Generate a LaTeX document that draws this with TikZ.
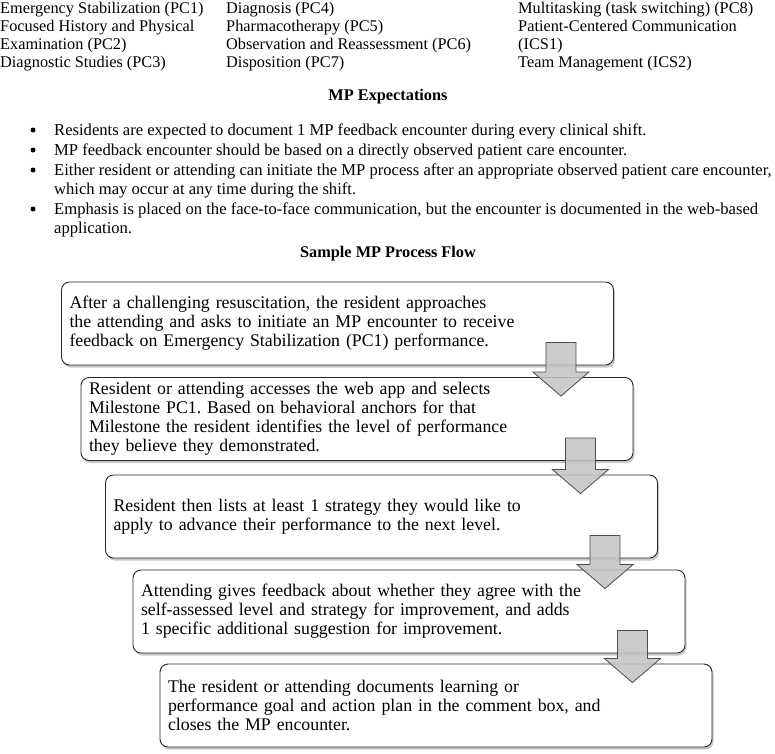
\documentclass[tikz,border=0pt]{standalone}
\usepackage{fontspec}
\setmainfont{Liberation Serif}
\frenchspacing
\usetikzlibrary{calc,shadows}
\tikzset{
  hdr/.style={anchor=base west, inner sep=0pt, font=\fontsize{16.3}{18}\selectfont},
  btxt/.style={anchor=base west, inner sep=0pt, font=\fontsize{16.6}{19}\selectfont},
  ttl/.style={anchor=base, inner sep=0pt, font=\fontsize{16.3}{18}\selectfont\bfseries},
  flowbox/.style={draw=black!85, line width=0.9pt, rounded corners=8pt, fill=white,
    minimum width=552pt, minimum height=83pt, text width=536pt, inner xsep=8pt,
    align=left, font=\fontsize{17.8}{19}\selectfont,
    drop shadow={shadow xshift=1.5pt, shadow yshift=-2.5pt, fill=black, opacity=0.22}},
  blockarr/.style={draw=black!70, line width=0.8pt, fill=black!23, fill opacity=0.88, line join=miter},
  bul/.style={circle, fill=black, inner sep=0pt, minimum size=5pt}
}
\newcommand\flowarrow[2]{%
  \draw[blockarr] let \p1=($(#1.south east)+(-53,-23)$), \p2=($(#2.north)+(0,19)$) in
    (\x1-15pt,\y1) -- (\x1+15pt,\y1) -- (\x1+15pt,\y2+24pt) -- (\x1+28pt,\y2+24pt)
    -- (\x1,\y2) -- (\x1-28pt,\y2+24pt) -- (\x1-15pt,\y2+24pt) -- cycle;}
\begin{document}
\begin{tikzpicture}[x=1pt,y=-1pt]
\useasboundingbox (0,0) rectangle (775,753);
% header columns
\node[hdr] (h11) at (0,13) {Emergency Stabilization (PC1)};
\node[hdr] (h12) at (0,31) {Focused History and Physical};
\node[hdr] (h13) at (0,49) {Examination (PC2)};
\node[hdr] (h14) at (0,67) {Diagnostic Studies (PC3)};
\node[hdr] (h21) at (226,13) {Diagnosis (PC4)};
\node[hdr] (h22) at (226,31) {Pharmacotherapy (PC5)};
\node[hdr] (h23) at (226,49) {Observation and Reassessment (PC6)};
\node[hdr] (h24) at (226,67) {Disposition (PC7)};
\node[hdr] (h31) at (518,13) {Multitasking (task switching) (PC8)};
\node[hdr] (h32) at (518,31) {Patient-Centered Communication};
\node[hdr] (h33) at (518,49) {(ICS1)};
\node[hdr] (h34) at (518,67) {Team Management (ICS2)};
% expectations
\node[ttl] (t1) at (388,100) {MP Expectations};
\node[bul] (b1) at (33,130) {};
\node[btxt] (e1) at (54,135) {Residents are expected to document 1 MP feedback encounter during every clinical shift.};
\node[bul] (b2) at (33,150) {};
\node[btxt] (e2) at (54,155) {MP feedback encounter should be based on a directly observed patient care encounter.};
\node[bul] (b3) at (33,170) {};
\node[btxt] (e3) at (54,175) {Either resident or attending can initiate the MP process after an appropriate observed patient care encounter,};
\node[btxt] (e3b) at (54,194) {which may occur at any time during the shift.};
\node[bul] (b4) at (33,209) {};
\node[btxt] (e4) at (54,214) {Emphasis is placed on the face-to-face communication, but the encounter is documented in the web-based};
\node[btxt] (e4b) at (54,233) {application.};
\node[ttl] (t2) at (388,257) {Sample MP Process Flow};
% flow boxes
\node[flowbox] (box1) at (337.5,323.5) {After a challenging resuscitation, the resident approaches\\the attending and asks to initiate an MP encounter to receive\\feedback on Emergency Stabilization (PC1) performance.};
\node[flowbox] (box2) at (357,419) {Resident or attending accesses the web app and selects\\Milestone PC1. Based on behavioral anchors for that\\Milestone the resident identifies the level of performance\\they believe they demonstrated.};
\node[flowbox] (box3) at (381.5,516.5) {Resident then lists at least 1 strategy they would like to\\apply to advance their performance to the next level.};
\node[flowbox] (box4) at (409,611.5) {Attending gives feedback about whether they agree with the\\self-assessed level and strategy for improvement, and adds\\1 specific additional suggestion for improvement.};
\node[flowbox] (box5) at (436,705.5) {The resident or attending documents learning or\\performance goal and action plan in the comment box, and\\closes the MP encounter.};
% arrows
\flowarrow{box1}{box2}
\flowarrow{box2}{box3}
\flowarrow{box3}{box4}
\flowarrow{box4}{box5}
\end{tikzpicture}
\end{document}
